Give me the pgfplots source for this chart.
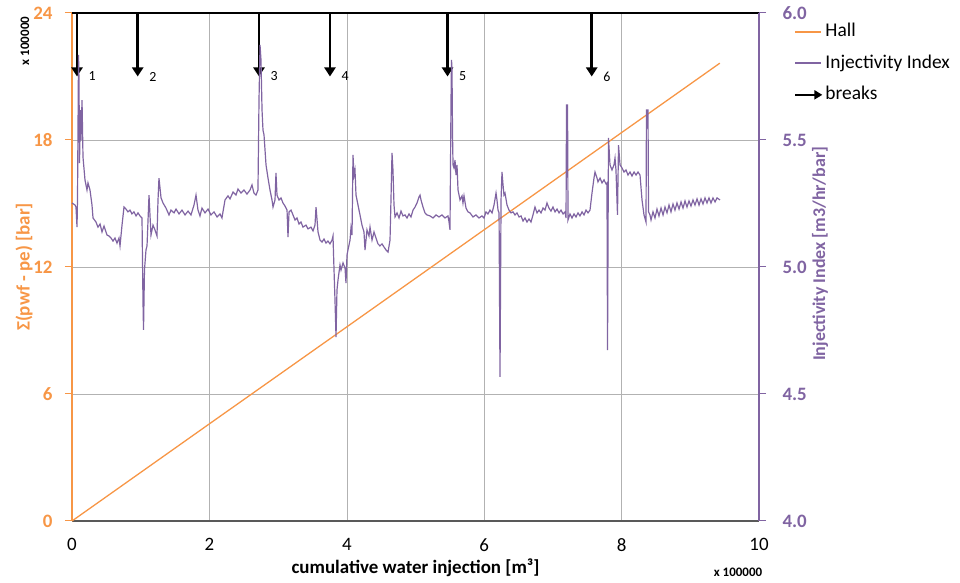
\documentclass[border=0pt]{standalone}
\usepackage{pgfplots}
\usepackage{pgfplotstable}
\pgfplotsset{compat=1.18}
\usepackage{fontspec}
\setmainfont{Carlito}
\usetikzlibrary{arrows.meta}
\definecolor{hallc}{HTML}{F79646}
\definecolor{iic}{HTML}{8064A2}
\definecolor{axgray}{HTML}{595959}

\pgfplotstableread{
x y
0.000 5.252
0.044 5.244
0.058 5.236
0.073 5.157
0.080 5.264
0.095 5.835
0.102 5.736
0.109 5.409
0.124 5.618
0.131 5.500
0.146 5.657
0.160 5.433
0.189 5.343
0.218 5.303
0.233 5.331
0.262 5.303
0.291 5.244
0.306 5.193
0.349 5.177
0.378 5.157
0.408 5.169
0.437 5.138
0.466 5.161
0.509 5.126
0.539 5.122
0.568 5.114
0.597 5.102
0.626 5.114
0.655 5.094
0.684 5.114
0.699 5.083
0.728 5.165
0.757 5.236
0.786 5.228
0.815 5.217
0.844 5.224
0.873 5.209
0.902 5.217
0.932 5.201
0.961 5.213
0.990 5.201
1.019 5.193
1.033 4.870
1.041 4.752
1.055 4.988
1.077 5.067
1.092 5.083
1.121 5.283
1.135 5.205
1.150 5.126
1.179 5.165
1.208 5.146
1.237 5.122
1.252 5.264
1.266 5.350
1.296 5.272
1.325 5.252
1.368 5.232
1.412 5.205
1.441 5.224
1.485 5.213
1.514 5.228
1.558 5.209
1.601 5.224
1.645 5.205
1.689 5.220
1.732 5.205
1.776 5.244
1.805 5.283
1.834 5.224
1.863 5.201
1.892 5.232
1.936 5.213
1.980 5.228
2.023 5.205
2.067 5.217
2.111 5.197
2.154 5.209
2.183 5.193
2.227 5.264
2.271 5.280
2.300 5.268
2.344 5.295
2.387 5.283
2.416 5.307
2.460 5.291
2.504 5.303
2.547 5.287
2.591 5.303
2.620 5.323
2.649 5.291
2.678 5.283
2.707 5.303
2.722 5.657
2.737 5.874
2.751 5.815
2.766 5.618
2.780 5.539
2.795 5.520
2.824 5.402
2.853 5.350
2.882 5.303
2.911 5.264
2.926 5.236
2.955 5.264
2.969 5.370
2.984 5.283
3.013 5.264
3.042 5.272
3.071 5.252
3.100 5.240
3.130 5.224
3.144 5.118
3.159 5.217
3.188 5.224
3.217 5.205
3.246 5.185
3.275 5.193
3.304 5.169
3.333 5.177
3.362 5.157
3.406 5.165
3.435 5.150
3.479 5.157
3.508 5.142
3.537 5.165
3.552 5.236
3.581 5.138
3.610 5.106
3.639 5.098
3.668 5.110
3.697 5.094
3.726 5.102
3.755 5.091
3.785 5.106
3.799 5.122
3.814 4.988
3.828 4.870
3.843 4.724
3.857 4.909
3.872 4.949
3.901 5.008
3.916 4.988
3.945 5.016
3.974 4.996
3.988 4.937
4.003 5.047
4.017 5.067
4.047 5.106
4.061 5.154
4.076 5.126
4.090 5.441
4.105 5.362
4.119 5.382
4.134 5.283
4.163 5.244
4.192 5.205
4.221 5.165
4.250 5.138
4.265 5.067
4.294 5.146
4.323 5.122
4.338 5.157
4.367 5.106
4.396 5.138
4.425 5.114
4.454 5.091
4.483 5.083
4.512 5.091
4.541 5.079
4.571 5.067
4.600 5.059
4.629 5.106
4.643 5.264
4.658 5.449
4.672 5.382
4.687 5.244
4.702 5.197
4.731 5.213
4.760 5.193
4.789 5.220
4.818 5.201
4.847 5.205
4.876 5.193
4.905 5.209
4.934 5.197
4.964 5.224
4.993 5.236
5.022 5.252
5.051 5.276
5.066 5.283
5.080 5.264
5.109 5.236
5.138 5.213
5.167 5.205
5.211 5.201
5.255 5.193
5.298 5.205
5.342 5.197
5.386 5.205
5.429 5.193
5.473 5.201
5.488 5.177
5.502 5.146
5.517 5.657
5.524 5.815
5.531 5.783
5.539 5.520
5.546 5.402
5.560 5.390
5.575 5.421
5.590 5.362
5.604 5.402
5.619 5.303
5.648 5.264
5.677 5.280
5.691 5.252
5.706 5.280
5.735 5.232
5.764 5.217
5.793 5.213
5.837 5.197
5.881 5.205
5.924 5.193
5.968 5.201
5.997 5.193
6.026 5.217
6.055 5.209
6.084 5.224
6.114 5.213
6.143 5.244
6.172 5.291
6.186 5.264
6.201 5.224
6.216 5.213
6.230 4.567
6.245 5.264
6.259 5.374
6.274 5.323
6.288 5.283
6.303 5.291
6.332 5.244
6.361 5.224
6.390 5.213
6.419 5.217
6.448 5.205
6.477 5.213
6.507 5.197
6.536 5.201
6.565 5.181
6.594 5.193
6.623 5.177
6.652 5.189
6.681 5.177
6.710 5.205
6.739 5.236
6.769 5.213
6.798 5.224
6.827 5.213
6.856 5.232
6.885 5.224
6.914 5.252
6.943 5.232
6.972 5.220
7.001 5.236
7.031 5.217
7.060 5.228
7.089 5.213
7.118 5.224
7.147 5.209
7.176 5.217
7.191 5.193
7.198 5.638
7.213 5.638
7.220 5.185
7.249 5.209
7.278 5.193
7.307 5.209
7.336 5.197
7.365 5.213
7.394 5.201
7.424 5.217
7.453 5.205
7.482 5.224
7.511 5.213
7.540 5.224
7.569 5.291
7.598 5.350
7.613 5.374
7.642 5.350
7.656 5.335
7.686 5.350
7.715 5.331
7.744 5.343
7.773 5.327
7.787 5.331
7.795 4.673
7.809 5.508
7.831 5.402
7.860 5.382
7.889 5.402
7.904 5.429
7.918 5.382
7.940 5.205
7.955 5.480
7.977 5.402
8.006 5.390
8.035 5.374
8.064 5.382
8.093 5.362
8.122 5.374
8.151 5.358
8.181 5.374
8.210 5.362
8.239 5.374
8.268 5.362
8.297 5.264
8.326 5.205
8.355 5.177
8.362 5.618
8.384 5.618
8.392 5.217
8.413 5.205
8.428 5.185
8.457 5.217
8.486 5.193
8.515 5.228
8.544 5.201
8.574 5.232
8.603 5.205
8.632 5.236
8.661 5.213
8.690 5.244
8.719 5.217
8.748 5.248
8.777 5.224
8.806 5.252
8.836 5.228
8.865 5.256
8.894 5.232
8.923 5.260
8.952 5.236
8.981 5.260
9.010 5.240
9.039 5.264
9.068 5.244
9.098 5.268
9.127 5.244
9.156 5.268
9.185 5.248
9.214 5.272
9.243 5.252
9.272 5.272
9.301 5.252
9.330 5.272
9.360 5.256
9.389 5.272
9.432 5.264
}\iitable

\pgfplotstableread{
x y
0.000 0.00
2.000 4.59
4.000 9.17
6.000 13.76
8.000 18.35
9.430 21.63
}\halltable

\begin{document}
\begin{tikzpicture}[x=1bp,y=1bp]
\useasboundingbox (-72,-62) rectangle (888,521);
\begin{axis}[
  at={(0,0)}, anchor=south west,
  scale only axis, width=687bp, height=508bp,
  xmin=0, xmax=10, ymin=0, ymax=24,
  xtick={0,2,4,6,8,10}, ytick={0,6,12,18,24},
  axis y line*=left, axis x line*=bottom,
  x axis line style={axgray, line width=2.5pt},
  y axis line style={hallc, line width=1.4pt},
  xmajorgrids, ymajorgrids, grid style={black!30, line width=0.6pt},
  tick align=outside, major tick length=7bp,
  xtick style={draw=none}, ytick style={hallc, line width=1pt},
  /pgf/number format/assume math mode=true,
  xticklabel style={font=\fontsize{19}{21}\selectfont, text=black, yshift=-7bp},
  yticklabel style={font=\fontsize{19}{21}\selectfont\bfseries, text=hallc, xshift=-9bp},
  xlabel={cumulative water injection [m³]},
  xlabel style={font=\fontsize{19}{21}\selectfont\bfseries, at={(axis description cs:0.5,0)}, anchor=base, yshift=-53bp},
  ylabel={Σ(pwf - pe) [bar]},
  ylabel style={font=\fontsize{19}{21}\selectfont\bfseries, text=hallc, at={(axis description cs:-0.0699,0.5)}, anchor=center},
  clip=false,
]
\addplot[black, line width=2.5pt, forget plot] coordinates {(0,24) (10,24)};
\addplot[hallc, line width=1.3pt] table[x=x, y=y] {\halltable};
\addplot[black, line width=2.6pt, -{Triangle[length=9bp, width=11bp]}] coordinates {(0.073,24) (0.073,21.0)} node[pos=1, anchor=west, xshift=7bp, font=\fontsize{14}{16}\selectfont] {1};
\addplot[black, line width=2.6pt, -{Triangle[length=9bp, width=11bp]}] coordinates {(0.956,24) (0.956,21.0)} node[pos=1, anchor=west, xshift=7bp, font=\fontsize{14}{16}\selectfont] {2};
\addplot[black, line width=2.6pt, -{Triangle[length=9bp, width=11bp]}] coordinates {(2.722,24) (2.722,21.0)} node[pos=1, anchor=west, xshift=7bp, font=\fontsize{14}{16}\selectfont] {3};
\addplot[black, line width=2.6pt, -{Triangle[length=9bp, width=11bp]}] coordinates {(3.755,24) (3.755,21.0)} node[pos=1, anchor=west, xshift=7bp, font=\fontsize{14}{16}\selectfont] {4};
\addplot[black, line width=2.6pt, -{Triangle[length=9bp, width=11bp]}] coordinates {(5.466,24) (5.466,21.0)} node[pos=1, anchor=west, xshift=7bp, font=\fontsize{14}{16}\selectfont] {5};
\addplot[black, line width=2.6pt, -{Triangle[length=9bp, width=11bp]}] coordinates {(7.565,24) (7.565,21.0)} node[pos=1, anchor=west, xshift=7bp, font=\fontsize{14}{16}\selectfont] {6};
\end{axis}
\begin{axis}[
  at={(0,0)}, anchor=south west,
  scale only axis, width=687bp, height=508bp,
  xmin=0, xmax=10, ymin=4, ymax=6,
  axis y line*=right, axis x line=none,
  ytick={4,4.5,5,5.5,6},
  y axis line style={iic, line width=1.4pt},
  ytick style={iic, line width=1pt},
  tick align=outside, major tick length=7bp,
  /pgf/number format/assume math mode=true,
  yticklabel style={/pgf/number format/.cd, fixed, fixed zerofill, precision=1, /tikz/.cd, font=\fontsize{19}{21}\selectfont\bfseries, text=iic, xshift=13bp},
  ylabel={Injectivity Index [m3/hr/bar]},
  ylabel style={font=\fontsize{18}{20}\selectfont\bfseries, text=iic, at={(axis description cs:1.0888,0.526)}, anchor=center},
  legend style={at={(1.051,0.981)}, anchor=north west, draw=none, fill=none, font=\fontsize{19.5}{22}\selectfont, row sep=13.5bp, inner sep=0pt, nodes={inner xsep=2bp, inner ysep=0pt, text height=14bp, text depth=4bp}},
  legend cell align=left,
  clip=false,
]
\addlegendimage{legend image code/.code={\draw[hallc, line width=2pt] (0bp,0bp) -- (26bp,0bp);}}
\addplot[iic, line width=1.2pt, legend image code/.code={\draw[iic, line width=2pt] (0bp,0bp) -- (26bp,0bp);}] table[x=x, y=y] {\iitable};
\addlegendimage{legend image code/.code={\draw[black, line width=2.2pt, -{Triangle[length=8bp, width=9bp]}] (0bp,0bp) -- (27bp,0bp);}}
\legend{Hall, Injectivity Index, breaks}
\end{axis}
\node[rotate=90, font=\fontsize{13}{14}\selectfont\bfseries] at (-47,480) {x 100000};
\node[font=\fontsize{13}{14}\selectfont\bfseries] at (666,-51) {x 100000};
\end{tikzpicture}
\end{document}
